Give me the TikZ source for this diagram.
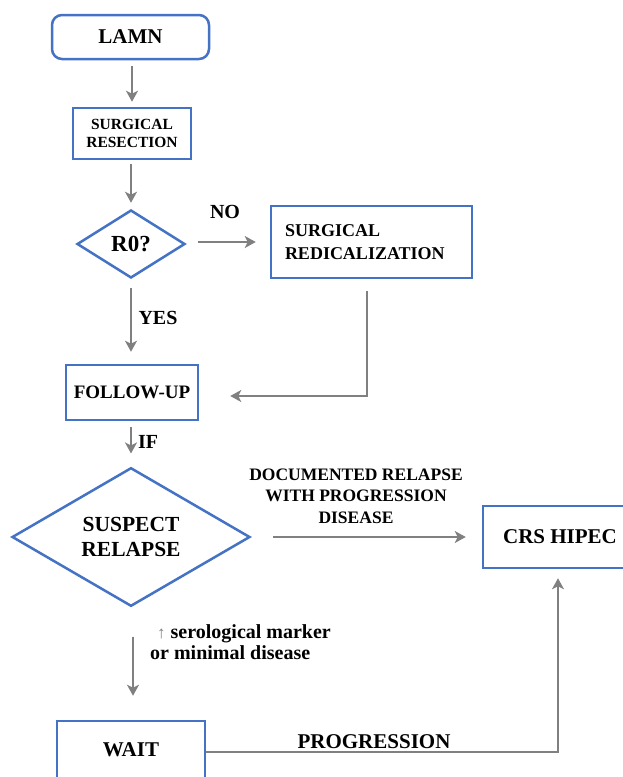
\documentclass[tikz,border=0pt]{standalone}
\usepackage{fontspec}
\setmainfont{Liberation Serif}
\usetikzlibrary{shapes.geometric,arrows.meta}
\definecolor{boxblue}{RGB}{68,114,196}
\definecolor{arrgray}{RGB}{128,128,128}
\tikzset{
  box/.style={draw=boxblue, line width=2.5pt, inner sep=0pt, align=center, font=\bfseries},
  dia/.style={diamond, draw=boxblue, line width=2.5pt, inner sep=0pt, align=center, font=\bfseries},
  arr/.style={draw=arrgray, line width=2.8pt, -{Stealth[length=11pt,width=12pt,inset=3pt]}},
  lbl/.style={inner sep=0pt, align=center, font=\bfseries},
}
\begin{document}
\begin{tikzpicture}[x=1pt,y=-1pt]
\clip (0,0) rectangle (623,777);
\fill[white] (0,0) rectangle (623,777);
% nodes
\node[box, rounded corners=10pt, minimum width=157pt, minimum height=44pt, font=\bfseries\fontsize{21}{24}\selectfont] (lamn) at (130.5,37) {LAMN};
\node[box, minimum width=118pt, minimum height=51pt, font=\bfseries\fontsize{15.5}{18}\selectfont] (res) at (132,133.5) {SURGICAL\\RESECTION};
\node[dia, minimum width=108pt, minimum height=68pt, font=\bfseries\fontsize{23}{26}\selectfont] (r0) at (131,244) {R0?};
\node[box, minimum width=201pt, minimum height=72pt, text width=173pt, inner xsep=14pt, align=left, font=\bfseries\fontsize{18}{23}\selectfont] (redic) at (371.5,242) {SURGICAL\\REDICALIZATION};
\node[box, minimum width=132pt, minimum height=55pt, font=\bfseries\fontsize{19}{22}\selectfont] (fu) at (132,392.5) {FOLLOW-UP};
\node[dia, minimum width=238pt, minimum height=122pt, font=\bfseries\fontsize{21.5}{25}\selectfont] (sr) at (131,537) {SUSPECT\\RELAPSE};
\node[box, minimum width=154pt, minimum height=62pt, font=\bfseries\fontsize{21}{24}\selectfont] (crs) at (560,537) {CRS HIPEC};
\node[box, minimum width=148pt, minimum height=58pt, font=\bfseries\fontsize{21}{24}\selectfont] (wait) at (131,750) {WAIT};
% labels
\node[lbl, font=\bfseries\fontsize{20}{22}\selectfont] (no) at (225,212) {NO};
\node[lbl, font=\bfseries\fontsize{20}{22}\selectfont] (yes) at (158,318) {YES};
\node[lbl, font=\bfseries\fontsize{20}{22}\selectfont] (if) at (148,442) {IF};
\node[lbl, font=\bfseries\fontsize{17.5}{21.5}\selectfont] (doc) at (356,496) {DOCUMENTED RELAPSE\\WITH PROGRESSION\\DISEASE};
\node[lbl, anchor=west, align=left, font=\bfseries\fontsize{20}{21}\selectfont] (sero) at (150,642) {\hspace*{7pt}{\mdseries\color{arrgray}\fontsize{17}{17}\selectfont ↑} serological marker\\or minimal disease};
\node[lbl, font=\bfseries\fontsize{21}{24}\selectfont] (prog) at (374,742) {PROGRESSION};
% connectors
\draw[arr, shorten <=6pt, shorten >=5pt] ([xshift=1.5pt]lamn.south) -- ([xshift=0pt]res.north);
\draw[arr, shorten <=4pt, shorten >=6pt] ([xshift=-1pt]res.south) -- (r0.north);
\draw[arr, shorten <=12pt, shorten >=14pt] ([yshift=2pt]r0.east) -- ([yshift=2pt]r0.east -| redic.west);
\draw[arr, shorten <=9pt, shorten >=12pt] (r0.south) -- ([xshift=-1pt]fu.north);
\draw[arr, shorten <=12pt, shorten >=31pt] ([xshift=-4.5pt]redic.south) |- ([yshift=-3.5pt]fu.east);
\draw[arr, shorten <=6pt, shorten >=13pt] ([xshift=-1pt]fu.south) -- (sr.north);
\draw[arr, shorten <=22pt, shorten >=16pt] (sr.east) -- (crs.west);
\draw[arr, shorten <=29pt, shorten >=24pt] ([xshift=2pt]sr.south) -- ([xshift=2pt]wait.north);
\draw[arr, shorten >=9pt] ([yshift=-2pt]wait.east) -| ([xshift=-2pt]crs.south);
\end{tikzpicture}
\end{document}
